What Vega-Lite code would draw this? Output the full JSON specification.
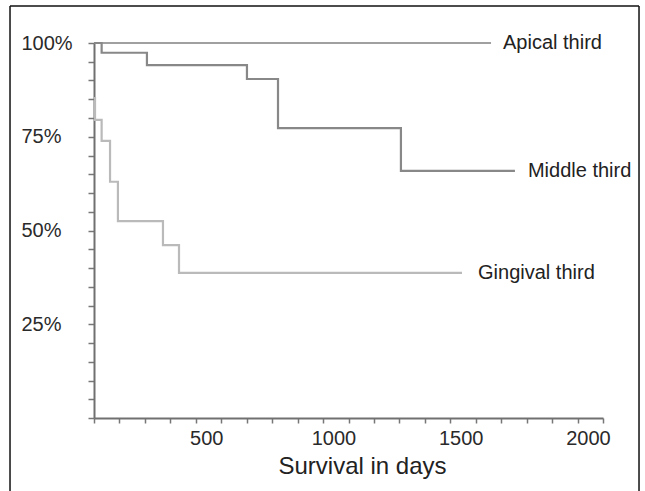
{
  "$schema": "https://vega.github.io/schema/vega-lite/v6.json",
  "width": 509,
  "height": 375,
  "autosize": {"type": "none"},
  "padding": {"left": 94, "top": 43, "right": 42, "bottom": 73},
  "background": "white",
  "config": {
    "view": {"stroke": null},
    "font": "Liberation Sans",
    "axis": {
      "grid": false,
      "domainColor": "#707070",
      "domainWidth": 2,
      "tickColor": "#777777",
      "tickWidth": 1.5,
      "labelColor": "#2a2a2a",
      "labelFont": "Liberation Sans",
      "labelFontSize": 20,
      "labelOverlap": false,
      "labelFlush": false
    }
  },
  "datasets": {
    "curves": [
      {"group": "Apical third", "day": 0, "pct": 100},
      {"group": "Apical third", "day": 1560, "pct": 100},
      {"group": "Middle third", "day": 0, "pct": 100},
      {"group": "Middle third", "day": 30, "pct": 97.4},
      {"group": "Middle third", "day": 208, "pct": 94.1},
      {"group": "Middle third", "day": 601, "pct": 90.4},
      {"group": "Middle third", "day": 723, "pct": 77.3},
      {"group": "Middle third", "day": 1206, "pct": 65.9},
      {"group": "Middle third", "day": 1654, "pct": 65.9},
      {"group": "Gingival third", "day": 0, "pct": 85.3},
      {"group": "Gingival third", "day": 4, "pct": 79.5},
      {"group": "Gingival third", "day": 30, "pct": 73.9},
      {"group": "Gingival third", "day": 63, "pct": 63.0},
      {"group": "Gingival third", "day": 94, "pct": 52.5},
      {"group": "Gingival third", "day": 271, "pct": 46.1},
      {"group": "Gingival third", "day": 334, "pct": 38.7},
      {"group": "Gingival third", "day": 1446, "pct": 38.7}
    ],
    "labels": [
      {"text": "Apical third", "day": 1607, "pct": 100},
      {"text": "Middle third", "day": 1705, "pct": 65.9},
      {"text": "Gingival third", "day": 1509, "pct": 38.7}
    ],
    "frame": [
      {"day": -330, "day2": -330, "pct": 109.87, "pct2": -20},
      {"day": -330, "day2": 2141.5, "pct": 109.87, "pct2": 109.87},
      {"day": 2141.5, "day2": 2141.5, "pct": 109.87, "pct2": -20}
    ]
  },
  "encoding": {
    "x": {
      "field": "day",
      "type": "quantitative",
      "scale": {"domain": [0, 2000], "nice": false, "zero": false},
      "axis": {
        "title": "Survival in days",
        "titleFont": "Liberation Sans",
        "titleFontSize": 24,
        "titleFontWeight": "normal",
        "titleColor": "#222222",
        "titleX": 268,
        "titleY": 55,
        "titleBaseline": "alphabetic",
        "values": [0, 100, 200, 300, 400, 500, 600, 700, 800, 900, 1000, 1100, 1200, 1300, 1400, 1500, 1600, 1700, 1800, 1900, 2000],
        "format": "d",
        "labelExpr": "datum.value > 0 && datum.value % 500 === 0 ? datum.label : ''",
        "tickSize": 5,
        "labelPadding": 5,
        "labelOffset": -15
      }
    },
    "y": {
      "field": "pct",
      "type": "quantitative",
      "scale": {"domain": [0, 100], "nice": false, "zero": false},
      "axis": {
        "title": null,
        "values": [0, 5, 10, 15, 20, 25, 30, 35, 40, 45, 50, 55, 60, 65, 70, 75, 80, 85, 90, 95, 100],
        "labelExpr": "datum.value > 0 && datum.value % 25 === 0 ? datum.value + '%' : ''",
        "tickSize": 6,
        "labelAlign": "left",
        "labelBaseline": "middle",
        "labelPadding": 67
      }
    }
  },
  "layer": [
    {
      "data": {"name": "curves"},
      "mark": {"type": "line", "interpolate": "step-after", "strokeWidth": 2.2},
      "encoding": {
        "color": {
          "field": "group",
          "type": "nominal",
          "scale": {"domain": ["Apical third", "Middle third", "Gingival third"], "range": ["#a0a0a0", "#888888", "#bababa"]},
          "legend": null
        }
      }
    },
    {
      "data": {"name": "labels"},
      "mark": {"type": "text", "align": "left", "baseline": "middle", "font": "Liberation Sans", "fontSize": 20, "color": "#222222"},
      "encoding": {
        "text": {"field": "text"}
      }
    },
    {
      "data": {"name": "frame"},
      "mark": {"type": "rule", "color": "#111111", "strokeWidth": 1.5},
      "encoding": {
        "x2": {"field": "day2"},
        "y2": {"field": "pct2"}
      }
    }
  ]
}
